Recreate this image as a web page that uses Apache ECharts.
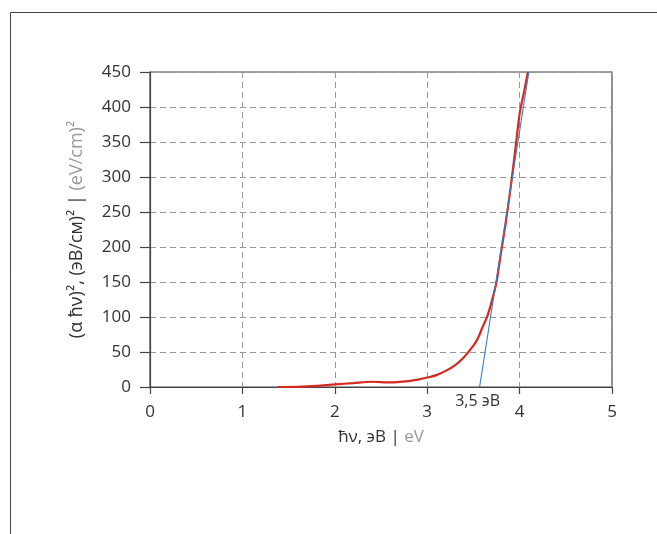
<!DOCTYPE html>
<html><head><meta charset="utf-8">
<script src="https://cdn.jsdelivr.net/npm/echarts@6/dist/echarts.min.js"></script>
<style>html,body{margin:0;padding:0;background:#fff}#c{width:657px;height:534px}</style>
</head><body><div id="c"></div>
<script>
var xTicks = [0, 1, 2, 3, 4, 5];
var yTicks = [0, 50, 100, 150, 200, 250, 300, 350, 400, 450];
var curveX = [1.38, 1.6, 1.8, 2.0, 2.2, 2.4, 2.6, 2.8, 2.9, 3.0, 3.1, 3.2, 3.3, 3.4, 3.5, 3.55, 3.6, 3.65, 3.7, 3.75, 3.8, 3.85, 3.9, 3.95, 4.0, 4.05, 4.09];
var curveY = [0, 0.3, 1.5, 3.8, 5.5, 7.5, 6.5, 8.5, 10.5, 13.5, 17, 23, 31, 43, 59, 70, 86, 101, 123, 150, 193, 235, 282, 335, 390, 423, 450];
var tangentX = [3.567, 4.10];
var tangentY = [0, 450];
var gapLabel = '3,5 эВ';
var gapX = 3.545;

var chart = echarts.init(document.getElementById('c'));
var font = 'Open Sans';
chart.setOption({
  animation: false,
  textStyle: {fontFamily: font},
  graphic: [{type: 'rect', shape: {x: 10.5, y: 12.5, width: 800, height: 700}, style: {fill: 'none', stroke: '#444', lineWidth: 1}}],
  grid: {left: 150, top: 72, right: 45, bottom: 147, show: true, borderColor: '#444', borderWidth: 1.2},
  xAxis: {
    type: 'value', min: xTicks[0], max: xTicks[xTicks.length - 1], interval: 1,
    name: '{a|ħν, эВ |}{b| eV}', nameLocation: 'middle', nameGap: 42,
    nameTextStyle: {rich: {a: {fontSize: 17, color: '#333', fontFamily: font}, b: {fontSize: 17, color: '#999', fontFamily: font}}},
    axisLine: {onZero: false, lineStyle: {color: '#444', width: 1.2}},
    axisTick: {show: true, length: 7, inside: false, lineStyle: {color: '#444', width: 1.2}},
    axisLabel: {fontSize: 17, color: '#333', margin: 17, fontFamily: font},
    splitLine: {show: true, lineStyle: {color: '#999', type: [6, 4], width: 1}}
  },
  yAxis: {
    type: 'value', min: yTicks[0], max: yTicks[yTicks.length - 1], interval: 50,
    name: '{a|(α ħν)², (эВ/см)² |}{b| (eV/cm)²}', nameLocation: 'middle', nameGap: 64, nameRotate: 90,
    nameTextStyle: {rich: {a: {fontSize: 18, color: '#333', fontFamily: font}, b: {fontSize: 18, color: '#999', fontFamily: font}}},
    axisLine: {show: true, lineStyle: {color: '#444', width: 1.2}},
    axisTick: {show: true, length: 10, lineStyle: {color: '#444', width: 1.2}},
    axisLabel: {fontSize: 17, color: '#333', margin: 19, fontFamily: font},
    splitLine: {show: true, lineStyle: {color: '#999', type: [6, 4], width: 1}}
  },
  series: [
    {type: 'line', data: curveX.map(function (x, i) { return [x, curveY[i]]; }), smooth: 0.25, showSymbol: false,
     lineStyle: {color: '#d42a1e', width: 2.2}, clip: true, z: 3},
    {type: 'line', data: tangentX.map(function (x, i) { return [x, tangentY[i]]; }), showSymbol: false,
     lineStyle: {color: '#3a7cc8', width: 1.1}, clip: true, z: 4,
     markPoint: {symbolSize: 0, silent: true, data: [{coord: [gapX, 0], label: {show: true, formatter: gapLabel, position: 'bottom', distance: 6, fontSize: 16, color: '#333', fontFamily: font}}]}}
  ]
});
</script></body></html>
